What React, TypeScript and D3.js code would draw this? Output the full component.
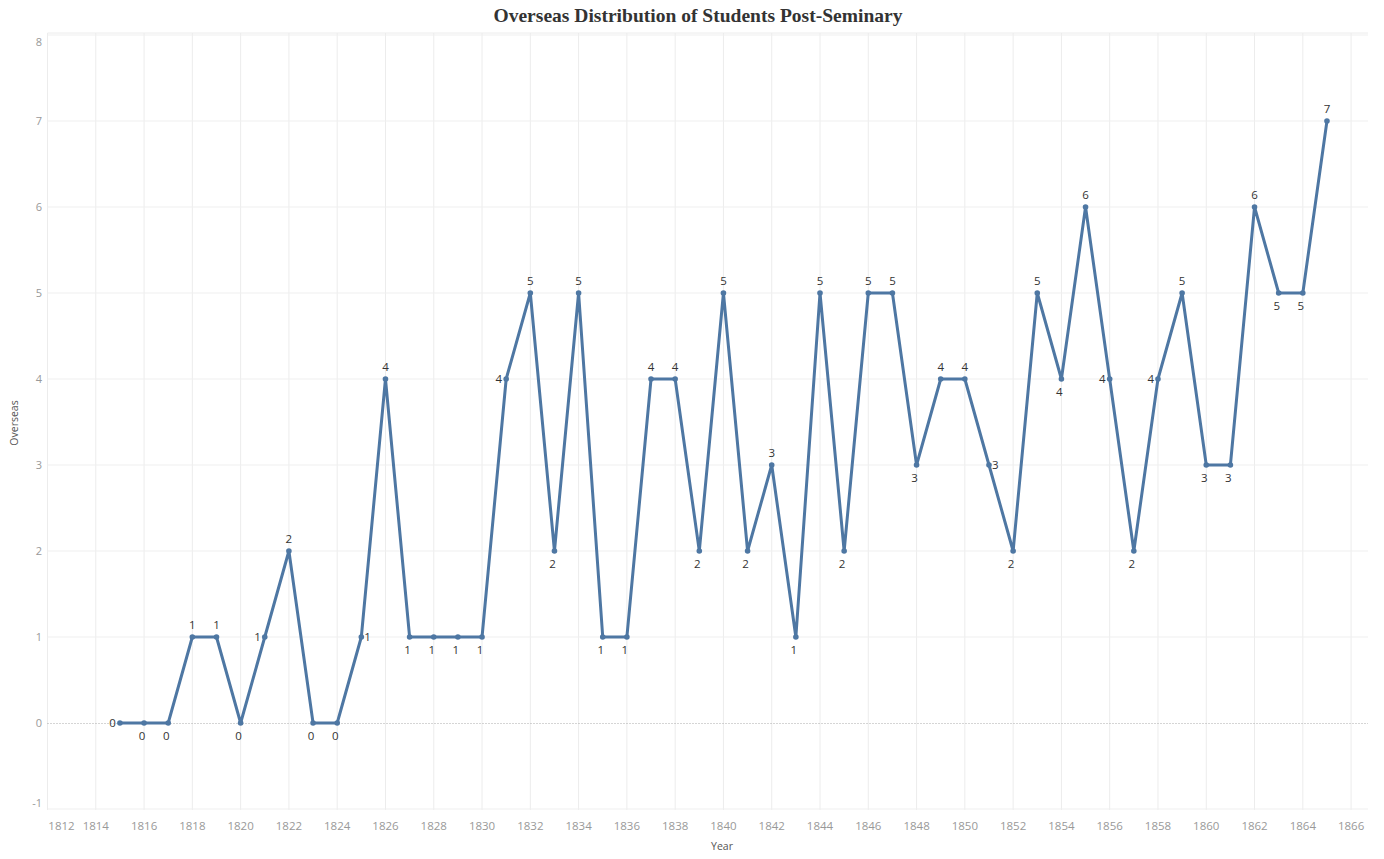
import React, { useEffect, useRef } from 'react';
import * as d3 from 'd3';

// yearly counts
const years = [
  1815, 1816, 1817, 1818, 1819, 1820, 1821, 1822, 1823, 1824,
  1825, 1826, 1827, 1828, 1829, 1830, 1831, 1832, 1833, 1834,
  1835, 1836, 1837, 1838, 1839, 1840, 1841, 1842, 1843, 1844,
  1845, 1846, 1847, 1848, 1849, 1850, 1851, 1852, 1853, 1854,
  1855, 1856, 1857, 1858, 1859, 1860, 1861, 1862, 1863, 1864, 1865,
];
const overseas = [
  0, 0, 0, 1, 1, 0, 1, 2, 0, 0,
  1, 4, 1, 1, 1, 1, 4, 5, 2, 5,
  1, 1, 4, 4, 2, 5, 2, 3, 1, 5,
  2, 5, 5, 3, 4, 4, 3, 2, 5, 4,
  6, 4, 2, 4, 5, 3, 3, 6, 5, 5, 7,
];
const xTicks = [1812, 1814, 1816, 1818, 1820, 1822, 1824, 1826, 1828, 1830, 1832, 1834, 1836, 1838, 1840, 1842, 1844, 1846, 1848, 1850, 1852, 1854, 1856, 1858, 1860, 1862, 1864, 1866];
const yTicks = [-1, 0, 1, 2, 3, 4, 5, 6, 7, 8];
// years whose label sits beside the point instead of above/below
const sideLabels: Record<number, string> = {
  1815: 'left', 1821: 'left', 1825: 'right', 1831: 'left',
  1851: 'right', 1856: 'left', 1858: 'left',
};

const W = 1384, H = 859;
const left = 47.5, right = 1368, top = 35, bottom = 809;

export default function App() {
  const ref = useRef<SVGSVGElement>(null);

  useEffect(() => {
    document.body.style.margin = '0';
    const svg = d3.select(ref.current);
    svg.selectAll('*').remove();

    const x = d3.scaleLinear().domain([1812, 1866.7]).range([left, right]);
    const y = d3.scaleLinear().domain([-1, 8]).range([bottom, top]);
    const font = "'Open Sans', 'Noto Sans', sans-serif";

    // gridlines
    const g = svg.append('g');
    g.selectAll('.vg').data(xTicks).enter().append('line')
      .attr('x1', d => x(d)).attr('x2', d => x(d))
      .attr('y1', top - 2).attr('y2', bottom + 1)
      .attr('stroke', '#ececec').attr('stroke-width', 1);
    g.selectAll('.hg').data(yTicks.filter(d => d !== 0)).enter().append('line')
      .attr('x1', left).attr('x2', right)
      .attr('y1', d => y(d)).attr('y2', d => y(d))
      .attr('stroke', '#efefef').attr('stroke-width', 1);
    // plot border top
    g.append('line').attr('x1', left).attr('x2', right).attr('y1', top - 2).attr('y2', top - 2)
      .attr('stroke', '#ececec');
    // zero line
    g.append('line').attr('x1', left).attr('x2', right)
      .attr('y1', y(0) + 0.5).attr('y2', y(0) + 0.5)
      .attr('stroke', '#aaa').attr('stroke-width', 1).attr('stroke-dasharray', '1,2');

    // y tick labels
    svg.append('g').selectAll('text').data(yTicks).enter().append('text')
      .attr('x', 42)
      .attr('y', d => Math.min(Math.max(y(d), top + 7), bottom - 6))
      .attr('dy', '0.35em')
      .attr('text-anchor', 'end')
      .attr('font-family', font).attr('font-size', 11).attr('fill', '#999')
      .text(d => d);

    // x tick labels
    svg.append('g').selectAll('text').data(xTicks).enter().append('text')
      .attr('x', d => Math.max(x(d), left + 14))
      .attr('y', 830)
      .attr('text-anchor', 'middle')
      .attr('font-family', font).attr('font-size', 11.5).attr('fill', '#999')
      .text(d => d);

    // axis titles
    svg.append('text').attr('x', 722).attr('y', 850).attr('text-anchor', 'middle')
      .attr('font-family', font).attr('font-size', 10.5).attr('fill', '#555').text('Year');
    svg.append('text').attr('transform', 'translate(18,423) rotate(-90)').attr('text-anchor', 'middle')
      .attr('font-family', font).attr('font-size', 10.5).attr('fill', '#555').text('Overseas');

    // title
    svg.append('text').attr('x', 698).attr('y', 22).attr('text-anchor', 'middle')
      .attr('font-family', "'Liberation Serif', 'DejaVu Serif', serif")
      .attr('font-weight', 'bold').attr('font-size', 19).attr('fill', '#333')
      .attr('textLength', 409).attr('lengthAdjust', 'spacingAndGlyphs')
      .text('Overseas Distribution of Students Post-Seminary');

    const data = years.map((yr, i) => ({ yr, v: overseas[i] }));
    const line = d3.line<{ yr: number; v: number }>().x(d => x(d.yr)).y(d => y(d.v));

    svg.append('path').datum(data)
      .attr('d', line)
      .attr('fill', 'none')
      .attr('stroke', '#4e77a3')
      .attr('stroke-width', 3)
      .attr('stroke-linejoin', 'round');

    svg.append('g').selectAll('circle').data(data).enter().append('circle')
      .attr('cx', d => x(d.yr)).attr('cy', d => y(d.v)).attr('r', 2.8)
      .attr('fill', '#4e77a3');

    // data labels: peaks above, troughs below, a few beside
    const side = (i: number) => {
      const d = data[i];
      if (sideLabels[d.yr]) return sideLabels[d.yr];
      const prev = i > 0 ? data[i - 1].v : d.v;
      const next = i < data.length - 1 ? data[i + 1].v : -Infinity;
      if (d.v >= prev && d.v >= next && !(d.v === prev && d.v === next)) return 'top';
      return 'bottom';
    };

    svg.append('g').selectAll('text').data(data).enter().append('text')
      .each(function (d, i) {
        const s = side(i);
        const t = d3.select(this);
        const px = x(d.yr), py = y(d.v);
        if (s === 'top') t.attr('x', px).attr('y', py - 12).attr('text-anchor', 'middle');
        else if (s === 'bottom') t.attr('x', px - 2).attr('y', py + 13).attr('text-anchor', 'middle');
        else if (s === 'left') t.attr('x', px - 4).attr('y', py).attr('text-anchor', 'end');
        else t.attr('x', px + 3).attr('y', py).attr('text-anchor', 'start');
      })
      .attr('dy', '0.35em')
      .attr('font-family', font).attr('font-size', 11.5).attr('fill', '#333')
      .text(d => d.v);
  }, []);

  return <svg ref={ref} width={W} height={H} style={{ display: 'block', background: '#fff' }} />;
}
